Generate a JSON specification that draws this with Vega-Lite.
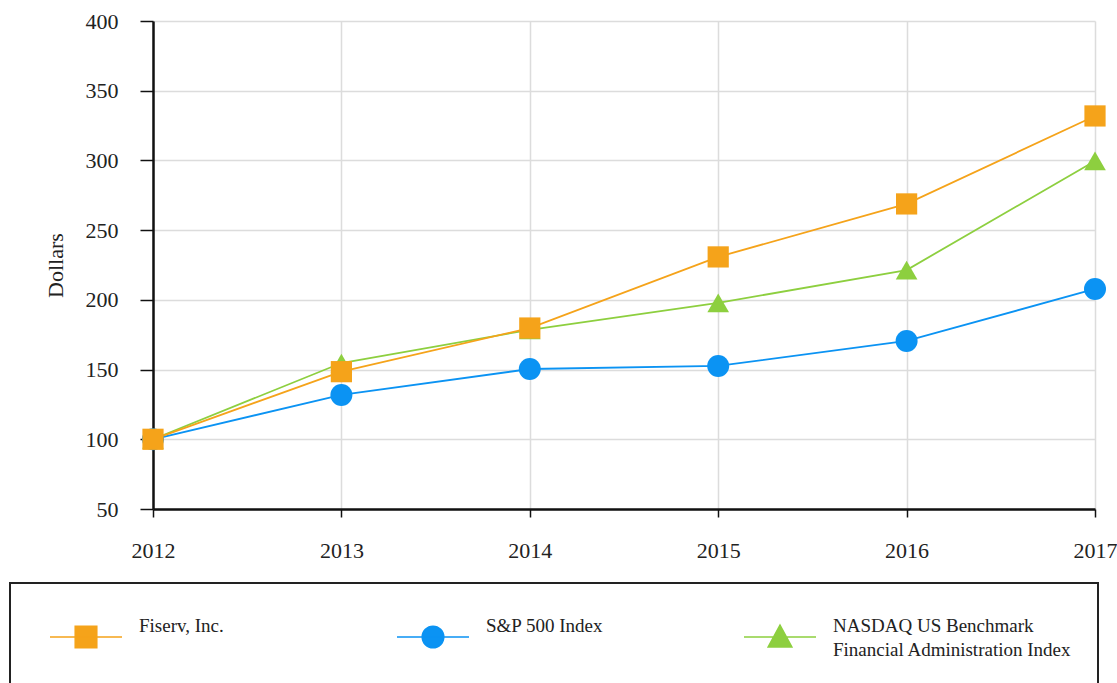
{
  "$schema": "https://vega.github.io/schema/vega-lite/v6.json",
  "width": 942,
  "height": 488,
  "autosize": {"type": "none"},
  "padding": {"left": 153, "top": 21, "right": 22, "bottom": 174},
  "background": "white",
  "config": {
    "view": {"stroke": null},
    "font": "Liberation Serif",
    "axis": {"labelFont": "Liberation Serif", "titleFont": "Liberation Serif", "labelColor": "#222", "titleColor": "#222"}
  },
  "data": {
    "values": [
      {"year": "2012", "series": "S&P 500 Index", "value": 100},
      {"year": "2013", "series": "S&P 500 Index", "value": 131.8},
      {"year": "2014", "series": "S&P 500 Index", "value": 150.4},
      {"year": "2015", "series": "S&P 500 Index", "value": 152.6},
      {"year": "2016", "series": "S&P 500 Index", "value": 170.5},
      {"year": "2017", "series": "S&P 500 Index", "value": 207.8},
      {"year": "2012", "series": "NASDAQ US Benchmark Financial Administration Index", "value": 100},
      {"year": "2013", "series": "NASDAQ US Benchmark Financial Administration Index", "value": 154.7},
      {"year": "2014", "series": "NASDAQ US Benchmark Financial Administration Index", "value": 178.5},
      {"year": "2015", "series": "NASDAQ US Benchmark Financial Administration Index", "value": 197.8},
      {"year": "2016", "series": "NASDAQ US Benchmark Financial Administration Index", "value": 221.4},
      {"year": "2017", "series": "NASDAQ US Benchmark Financial Administration Index", "value": 299.6},
      {"year": "2012", "series": "Fiserv, Inc.", "value": 100},
      {"year": "2013", "series": "Fiserv, Inc.", "value": 148.5},
      {"year": "2014", "series": "Fiserv, Inc.", "value": 179.8},
      {"year": "2015", "series": "Fiserv, Inc.", "value": 230.8},
      {"year": "2016", "series": "Fiserv, Inc.", "value": 268.8},
      {"year": "2017", "series": "Fiserv, Inc.", "value": 331.9}
    ]
  },
  "encoding": {
    "x": {
      "field": "year", "type": "ordinal",
      "scale": {"type": "point", "padding": 0},
      "axis": {
        "title": null, "labelAngle": 0, "labelFontSize": 22, "labelPadding": 23,
        "tickSize": 8, "tickColor": "#111", "tickWidth": 1.5,
        "domainColor": "#111", "domainWidth": 2.5,
        "grid": true, "gridColor": "#dcdcdc", "gridWidth": 1.5
      }
    },
    "y": {
      "field": "value", "type": "quantitative",
      "scale": {"domain": [50, 400], "nice": false, "zero": false},
      "axis": {
        "title": "Dollars", "titleFontSize": 22, "titleFontWeight": "normal", "titlePadding": 18,
        "values": [50, 100, 150, 200, 250, 300, 350, 400],
        "labelFontSize": 22, "labelPadding": 22,
        "tickSize": 13, "tickColor": "#111", "tickWidth": 1.5,
        "domainColor": "#111", "domainWidth": 2.5,
        "grid": true, "gridColor": "#dcdcdc", "gridWidth": 1.5
      }
    },
    "color": {
      "field": "series", "type": "nominal",
      "scale": {
        "domain": ["Fiserv, Inc.", "S&P 500 Index", "NASDAQ US Benchmark Financial Administration Index"],
        "range": ["#F5A31A", "#0B93F3", "#8DCF3F"]
      },
      "legend": {
        "title": null,
        "orient": "none",
        "legendX": -143,
        "legendY": 562,
        "direction": "horizontal",
        "columns": 3,
        "gridAlign": "all",
        "columnPadding": 5,
        "padding": 26,
        "symbolOffset": 13,
        "labelOffset": 16,
        "strokeColor": "#222",
        "labelFont": "Liberation Serif",
        "labelFontSize": 19,
        "labelColor": "#222",
        "labelLimit": 600,
        "labelBaseline": "alphabetic",
        "symbolSize": 5184,
        "symbolStrokeWidth": 1.5,
        "symbolOpacity": 1,
        "labelExpr": "datum.label == 'NASDAQ US Benchmark Financial Administration Index' ? ['NASDAQ US Benchmark', 'Financial Administration Index'] : [datum.label, '']",
        "encode": {
          "symbols": {
            "update": {
              "shape": {"signal": "datum.value == 'Fiserv, Inc.' ? 'M-1,0H1M-0.3,-0.3H0.3V0.3H-0.3Z' : datum.value == 'S&P 500 Index' ? 'M-1,0H1M-0.3,0A0.3,0.3 0 1,0 0.3,0A0.3,0.3 0 1,0 -0.3,0Z' : 'M-1,0H1M0,-0.33L0.33,0.28L-0.33,0.28Z'"},
              "fill": {"signal": "scale('color', datum.value)"},
              "stroke": {"signal": "scale('color', datum.value)"},
              "y": {"signal": "28"}
            }
          },
          "labels": {
            "update": {"y": {"signal": "23"}, "lineHeight": {"signal": "24"}}
          },
          "legend": {
            "update": {"strokeWidth": {"signal": "2"}}
          }
        }
      }
    }
  },
  "layer": [
    {
      "mark": {"type": "line", "strokeWidth": 1.8}
    },
    {
      "transform": [{"filter": "datum.series == 'S&P 500 Index'"}],
      "mark": {"type": "point", "shape": "circle", "filled": true, "opacity": 1, "size": 484}
    },
    {
      "transform": [{"filter": "datum.series == 'NASDAQ US Benchmark Financial Administration Index'"}],
      "mark": {"type": "point", "shape": "triangle-up", "filled": true, "opacity": 1, "size": 470}
    },
    {
      "transform": [{"filter": "datum.series == 'Fiserv, Inc.'"}],
      "mark": {"type": "point", "shape": "square", "filled": true, "opacity": 1, "size": 450}
    }
  ]
}
